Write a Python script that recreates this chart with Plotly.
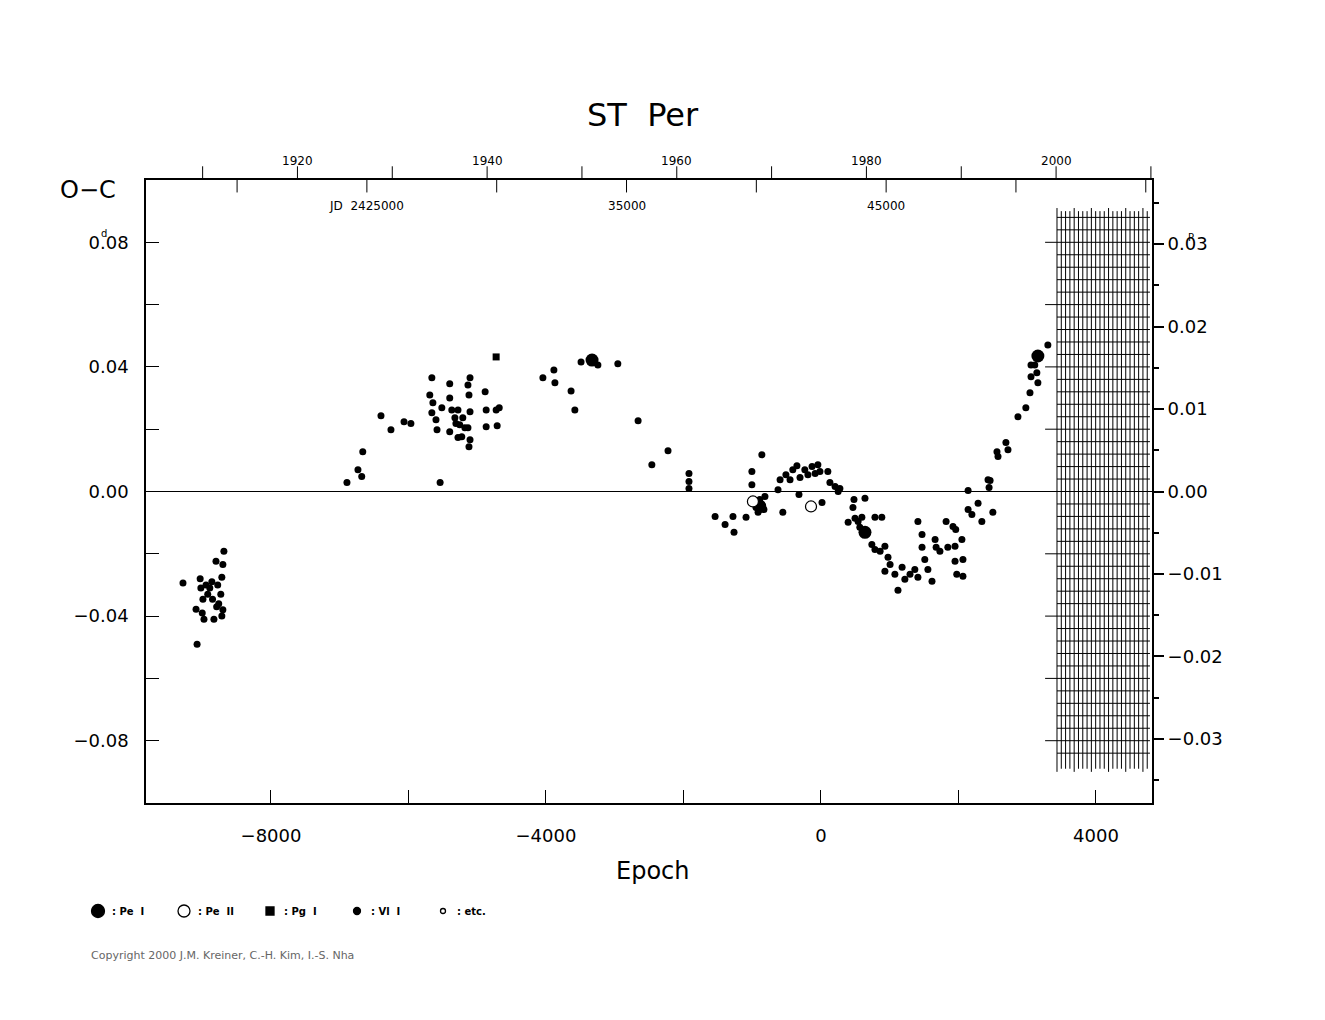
import plotly.graph_objects as go
import numpy as np

PERIOD = 2.648
JD0 = 2442490.0

# Vl I (small dots): epoch, O-C
vl_epoch = [-9280,-9090,-9075,-9030,-9020,-8990,-9000,-8975,-8945,-8920,-8890,-8860,-8850,-8830,-8800,-8775,-8760,-8730,-8715,-8700,-8700,-8685,-8715,-8790,
 -6895,-6735,-6680,-6665,-6400,-6255,-6065,-5965,-5690,-5660,-5660,-5645,-5600,-5540,-5585,-5515,-5400,-5400,-5370,-5325,-5280,-5255,-5210,-5180,-5280,-5400,-5135,-5105,-5120,-5135,-5105,-5120,-5225,-4885,-4870,-4870,-4725,-4680,-4710,-5105,-5310,
 -4045,-3870,-3885,-3635,-3580,-3490,-3245,-2955,-2660,-2460,-2225,-1920,-1920,-1920,
 -1540,-1395,-1280,-1265,-1090,-1005,-1005,-860,-945,-890,-860,-815,-915,-830,
 -625,-595,-555,-510,-450,-410,-350,-320,-305,-235,-190,-130,-85,-45,-15,15,100,130,205,250,275,
 480,465,640,395,495,540,565,595,785,885,740,785,860,930,975,930,1005,1075,1120,1180,1220,1295,1365,1410,1470,1470,1510,1555,1615,1660,1730,1820,1845,1920,1960,1950,1950,1975,2050,2065,2065,1410,1675,
 2140,2140,2195,2285,2340,2500,2430,2445,2460,2560,2575,2690,2720,2865,2980,3040,3155,3055,3140,3110,3055,3300]
vl_oc = [-0.0294,-0.0378,-0.049,-0.028,-0.031,-0.0346,-0.039,-0.041,-0.030,-0.033,-0.031,-0.029,-0.0346,-0.041,-0.0224,-0.030,-0.036,-0.033,-0.0275,-0.038,-0.0234,-0.0192,-0.040,-0.037,
 0.0029,0.007,0.0048,0.0128,0.0243,0.0198,0.0224,0.0218,0.031,0.0365,0.0253,0.0285,0.023,0.0029,0.0198,0.0269,0.0346,0.030,0.0262,0.0237,0.0262,0.0214,0.0237,0.0205,0.0173,0.0192,0.0342,0.0365,0.031,0.0205,0.0166,0.0144,0.0176,0.032,0.0262,0.0208,0.0262,0.0269,0.0211,0.0256,0.0218,
 0.0365,0.0349,0.039,0.0323,0.0262,0.0416,0.0406,0.041,0.0227,0.0086,0.0131,0.0058,0.0032,0.001,
 -0.008,-0.0106,-0.008,-0.0131,-0.0083,0.0064,0.0022,0.0118,-0.0051,-0.0026,-0.0042,-0.0016,-0.0067,-0.0058,
 0.0006,0.0038,-0.0067,0.0054,0.0038,0.007,0.0083,-0.001,0.0045,0.007,0.0054,0.008,0.0058,0.0086,0.0064,-0.0035,0.0064,0.0029,0.0016,0.0,0.001,
 -0.0026,-0.0051,-0.0022,-0.0099,-0.0086,-0.0096,-0.0115,-0.0083,-0.0083,-0.0083,-0.017,-0.0186,-0.0192,-0.0176,-0.0211,-0.0256,-0.0234,-0.0266,-0.0317,-0.0243,-0.0282,-0.0266,-0.025,-0.0275,-0.0138,-0.0179,-0.0218,-0.025,-0.0288,-0.0154,-0.0192,-0.0096,-0.0179,-0.0112,-0.0122,-0.0176,-0.0224,-0.0266,-0.0154,-0.0218,-0.0272,-0.0096,-0.0179,
 0.0003,-0.0058,-0.0074,-0.0038,-0.0096,-0.0067,0.0038,0.0013,0.0035,0.0128,0.0112,0.0157,0.0134,0.024,0.0269,0.0317,0.0349,0.0368,0.0381,0.0406,0.0406,0.047]

pe1_epoch = [-3330, -890, 640, 3155]
pe1_oc = [0.0422, -0.0048, -0.0131, 0.0435]
pe2_epoch = [-990, -145]
pe2_oc = [-0.0032, -0.0048]
pg_epoch = [-4725]
pg_oc = [0.0432]

year_ticks = list(range(1910, 2011, 10))
year_labels = [1920, 1940, 1960, 1980, 2000]
jd_ticks = list(range(20000, 55001, 5000))
jd_labels = {25000: "JD  2425000", 35000: "35000", 45000: "45000"}

def jd2ep(jd):
    return (jd - JD0) / PERIOD

def yr2ep(y):
    return jd2ep(2415020.5 + (y - 1900) * 365.25)

fig = go.Figure()
fig.add_trace(go.Scatter(x=vl_epoch, y=vl_oc, mode="markers",
                         marker=dict(size=7, color="black"), showlegend=False))
fig.add_trace(go.Scatter(x=pe1_epoch, y=pe1_oc, mode="markers",
                         marker=dict(size=13, color="black"), showlegend=False))
fig.add_trace(go.Scatter(x=pe2_epoch, y=pe2_oc, mode="markers",
                         marker=dict(size=11, color="white", line=dict(color="black", width=1.2)), showlegend=False))
fig.add_trace(go.Scatter(x=pg_epoch, y=pg_oc, mode="markers",
                         marker=dict(size=7, color="black", symbol="square"), showlegend=False))
fig.add_trace(go.Scatter(x=[0], y=[0], yaxis="y2", mode="markers",
                         marker=dict(size=1, opacity=0), showlegend=False, hoverinfo="skip"))

OFF = 8  # page body offset
L, R, T, B = 146, 1152, 180, 803
W, H = 1325, 1020

def pxp(px, py):
    return (px - L) / (R - L), (B - py) / (B - T)

shapes = []
shapes.append(dict(type="line", xref="paper", yref="y", x0=0, x1=1, y0=0, y1=0,
                   line=dict(color="black", width=1)))
gx0, gx1 = 3433, 4785
xs = np.arange(gx0, gx1 + 1, 62.5)
for i, xv in enumerate(xs):
    shapes.append(dict(type="line", xref="x", yref="y", x0=xv, x1=xv,
                       y0=0.090 if i % 4 else 0.091, y1=-0.089 if i % 4 else -0.090,
                       line=dict(color="black", width=1)))
for yv in np.arange(-0.084, 0.0881, 0.004):
    shapes.append(dict(type="line", xref="x", yref="y", x0=gx0, x1=gx1, y0=yv, y1=yv,
                       line=dict(color="black", width=1)))
for yv in [-0.08, -0.06, -0.04, -0.02, 0.02, 0.04, 0.06, 0.08]:
    shapes.append(dict(type="line", xref="x", yref="y", x0=3260, x1=gx0, y0=yv, y1=yv,
                       line=dict(color="black", width=1)))
annotations = []
ytop = pxp(0, 170)[1]
for y in year_ticks:
    e = yr2ep(y)
    shapes.append(dict(type="line", xref="x", yref="paper", x0=e, x1=e, y0=1, y1=1.022,
                       line=dict(color="black", width=1)))
    if y in year_labels:
        annotations.append(dict(x=e, y=ytop, xref="x", yref="paper", text=str(y), showarrow=False,
                                yanchor="bottom", font=dict(size=12, color="black", family="DejaVu Sans")))
for j in jd_ticks:
    e = jd2ep(2400000 + j)
    shapes.append(dict(type="line", xref="x", yref="paper", x0=e, x1=e, y0=1, y1=0.98,
                       line=dict(color="black", width=1)))
    if j in jd_labels:
        annotations.append(dict(x=e, y=0.973, xref="x", yref="paper", text=jd_labels[j], showarrow=False,
                                yanchor="top", font=dict(size=12, color="black", family="DejaVu Sans")))

fs = dict(family="DejaVu Sans", color="black")

def txt(px, py, text, size, **kw):
    x, y = pxp(px, py)
    d = dict(x=x, y=y, xref="paper", yref="paper", text=text, showarrow=False,
             font=dict(size=size, **kw.pop("font", fs)))
    d.update(kw)
    annotations.append(d)

txt(643, 94, "ST  Per", 32)
txt(58, 174, "O−C", 24, xanchor="left")
txt(653, 887, "Epoch", 24)
txt(99, 226, "d", 10)
txt(1196, 230, "P", 10)
txt(89, 964, "Copyright 2000 J.M. Kreiner, C.-H. Kim, I.-S. Nha", 11, xanchor="left",
    font=dict(family="DejaVu Sans", color="#666"))

leg = [(98, "circle", 13, True, ": Pe  I"), (184, "circle", 12, False, ": Pe  II"),
       (270, "square", 8, True, ": Pg  I"), (357, "circle", 7, True, ": Vl  I"),
       (443, "circle", 5, False, ": etc.")]
for px, sym, sz, fill, label in leg:
    xx, yy = pxp(px, 911)
    h = sz / 2
    shapes.append(dict(type="circle" if sym == "circle" else "rect", xref="paper", yref="paper",
                       xsizemode="pixel", ysizemode="pixel", xanchor=xx, yanchor=yy,
                       x0=-h, x1=h, y0=-h, y1=h,
                       fillcolor="black" if fill else "white", line=dict(color="black", width=1.3)))
    txt(px + 12, 919, "<b>" + label + "</b>", 10, xanchor="left")

fig.update_layout(
    width=W, height=H,
    margin=dict(l=L - OFF, r=W - (R - OFF), t=T - OFF, b=H - (B - OFF)),
    paper_bgcolor="white", plot_bgcolor="white", showlegend=False,
    font=dict(family="DejaVu Sans", color="black"),
    xaxis=dict(range=[-9818, 4815], tickvals=[-8000, -4000, 0, 4000],
               ticktext=["−8000", "−4000", "0", "4000"], ticks="inside", ticklen=13,
               minor=dict(tickvals=[-6000, -2000, 2000], ticks="inside", ticklen=13, tickcolor="black"),
               tickcolor="black", showgrid=False, zeroline=False, showline=True, linecolor="black",
               linewidth=1.5, mirror=True, tickfont=dict(size=18), ticklabelstandoff=16),
    yaxis=dict(range=[-0.1, 0.1], tickvals=[-0.08, -0.04, 0, 0.04, 0.08],
               ticktext=["−0.08", "−0.04", "0.00", "0.04", "0.08"], ticks="inside", ticklen=13,
               minor=dict(tickvals=[-0.06, -0.02, 0.02, 0.06], ticks="inside", ticklen=13, tickcolor="black"),
               tickcolor="black", showgrid=False, zeroline=False, showline=True, linecolor="black",
               linewidth=1.5, tickfont=dict(size=18), ticklabelstandoff=12),
    yaxis2=dict(range=[-0.1 / PERIOD, 0.1 / PERIOD], overlaying="y", side="right",
                tickvals=[-0.03, -0.02, -0.01, 0, 0.01, 0.02, 0.03],
                ticktext=["−0.03", "−0.02", "−0.01", "0.00", "0.01", "0.02", "0.03"],
                ticks="outside", ticklen=10, tickcolor="black", tickwidth=2,
                minor=dict(dtick=0.005, ticks="outside", ticklen=5, tickcolor="black"),
                showgrid=False, zeroline=False, showline=True, linecolor="black", linewidth=2,
                tickfont=dict(size=18)),
    shapes=shapes, annotations=annotations,
)
fig.write_html("out.html")
